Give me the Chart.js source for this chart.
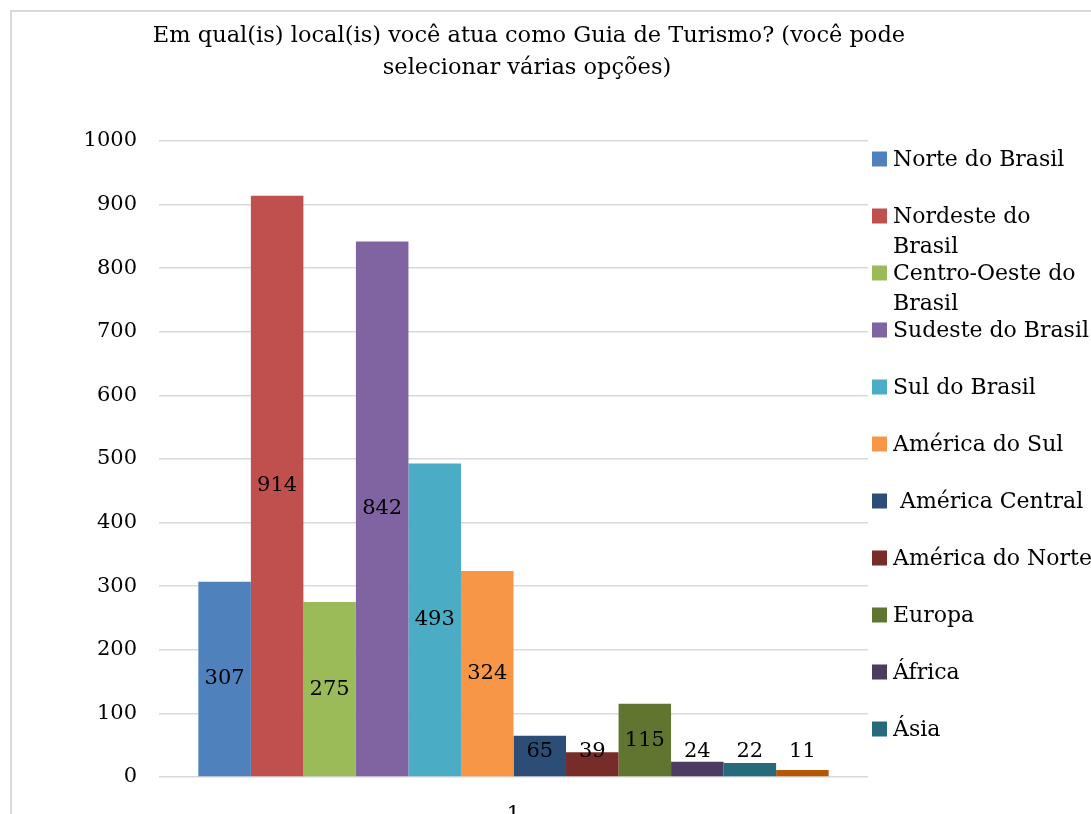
<!DOCTYPE html>
<html>
<head>
<meta charset="utf-8">
<title>Guias de Turismo por local</title>
<script src="https://cdn.jsdelivr.net/npm/chart.js@4.4.1/dist/chart.umd.min.js"></script>
<style>
    html, body { margin: 0; padding: 0; background: #fff; }
    #wrap { position: relative; width: 1091px; height: 814px; overflow: hidden; }
</style>
</head>
<body>
<div id="wrap"><canvas id="locaisChart" width="1091" height="814"></canvas></div>
<script>
/* dados da pergunta */
var titleLines = [
    'Em qual(is) local(is) você atua como Guia de Turismo? (você pode',
    'selecionar várias opções)'
];
var categories = ['1'];
var seriesNames = [
    'Norte do Brasil', 'Nordeste do Brasil', 'Centro-Oeste do Brasil',
    'Sudeste do Brasil', 'Sul do Brasil', 'América do Sul',
    ' América Central', 'América do Norte', 'Europa', 'África', 'Ásia', 'Oceania'
];
var seriesValues = [307, 914, 275, 842, 493, 324, 65, 39, 115, 24, 22, 11];
var seriesColors = [
    '#4F81BD', '#C0504D', '#9BBB59', '#8064A2', '#4BACC6', '#F79646',
    '#2C4D75', '#772C2A', '#5F7530', '#4D3B62', '#276A7C', '#B65708'
];
var yTicks = [0, 100, 200, 300, 400, 500, 600, 700, 800, 900, 1000];
var legendShown = 11;   // a legenda só mostra as 11 primeiras séries

var FONT = "'DejaVu Serif', serif";

/* moldura cinza à volta do gráfico */
var frame = {
    id: 'frame',
    beforeDraw: function (chart) {
        var ctx = chart.ctx;
        ctx.save();
        ctx.strokeStyle = '#d9d9d9';
        ctx.lineWidth = 2;
        ctx.strokeRect(11, 11, chart.width + 20, chart.height + 20);
        ctx.restore();
    }
};

/* título em duas linhas */
var titleBlock = {
    id: 'titleBlock',
    afterDraw: function (chart) {
        var ctx = chart.ctx;
        ctx.save();
        ctx.font = '22.5px ' + FONT;
        ctx.fillStyle = '#000';
        ctx.textAlign = 'center';
        ctx.textBaseline = 'alphabetic';
        ctx.fillText(titleLines[0], 529, 42);
        ctx.fillText(titleLines[1], 527, 74);
        ctx.restore();
    }
};

/* valores no meio das barras (barras baixas: rótulo sobe um pouco) */
var valueLabels = {
    id: 'valueLabels',
    afterDatasetsDraw: function (chart) {
        var ctx = chart.ctx;
        ctx.save();
        ctx.font = '21px ' + FONT;
        ctx.fillStyle = '#000';
        ctx.textAlign = 'center';
        ctx.textBaseline = 'middle';
        chart.data.datasets.forEach(function (ds, i) {
            var meta = chart.getDatasetMeta(i);
            meta.data.forEach(function (bar, j) {
                var cy = Math.min((bar.y + bar.base) / 2, bar.base - 25);
                ctx.fillText(String(ds.data[j]), bar.x, cy);
            });
        });
        ctx.restore();
    }
};

/* quebra de um rótulo em linhas que caibam em maxW */
function wrapLabel(ctx, text, maxW) {
    var lead = text.match(/^\s*/)[0];
    var words = text.trim().split(' ');
    var lines = [], cur = lead + words[0];
    for (var i = 1; i < words.length; i++) {
        var test = cur + ' ' + words[i];
        if (ctx.measureText(test).width > maxW) {
            lines.push(cur);
            cur = words[i];
        } else {
            cur = test;
        }
    }
    lines.push(cur);
    return lines;
}

/* legenda à direita */
var sideLegend = {
    id: 'sideLegend',
    afterDraw: function (chart) {
        var ctx = chart.ctx;
        var x = chart.chartArea.right + 4;
        var y = 159, step = 57, lineH = 30, maxW = 201;
        ctx.save();
        ctx.font = '22px ' + FONT;
        ctx.textBaseline = 'middle';
        ctx.textAlign = 'left';
        chart.data.datasets.slice(0, legendShown).forEach(function (ds, i) {
            var cy = y + i * step;
            ctx.fillStyle = ds.backgroundColor;
            ctx.fillRect(x, cy - 7.5, 15, 15);
            ctx.fillStyle = '#000';
            wrapLabel(ctx, ds.label, maxW).forEach(function (ln, k) {
                ctx.fillText(ln, x + 21, cy + 1 + k * lineH);
            });
        });
        ctx.restore();
    }
};

var datasets = seriesNames.map(function (name, i) {
    return {
        label: name,
        data: [seriesValues[i]],
        backgroundColor: seriesColors[i],
        borderWidth: 0,
        categoryPercentage: 0.889,
        barPercentage: 1.0
    };
});

new Chart(document.getElementById('locaisChart'), {
    type: 'bar',
    data: { labels: categories, datasets: datasets },
    options: {
        responsive: false,
        animation: false,
        layout: { padding: { left: 0, top: 141, right: 223, bottom: 0 } },
        plugins: {
            legend: { display: false },
            title: { display: false },
            tooltip: { enabled: false }
        },
        scales: {
            x: {
                grid: { display: false },
                border: { display: false },
                ticks: { color: '#000', font: { family: FONT, size: 21 }, padding: 17 },
                afterFit: function (s) { s.height = 37; }
            },
            y: {
                min: 0,
                max: 1000,
                afterBuildTicks: function (s) {
                    s.ticks = yTicks.map(function (v) { return { value: v }; });
                },
                grid: { color: '#d9d9d9', lineWidth: 1.5, drawTicks: false },
                border: { display: false },
                ticks: {
                    color: '#000',
                    font: { family: FONT, size: 21 },
                    padding: 22,
                    callback: function (v) { return String(v); }
                },
                afterFit: function (s) { s.width = 159; }
            }
        }
    },
    plugins: [frame, titleBlock, valueLabels, sideLegend]
});
</script>
</body>
</html>
